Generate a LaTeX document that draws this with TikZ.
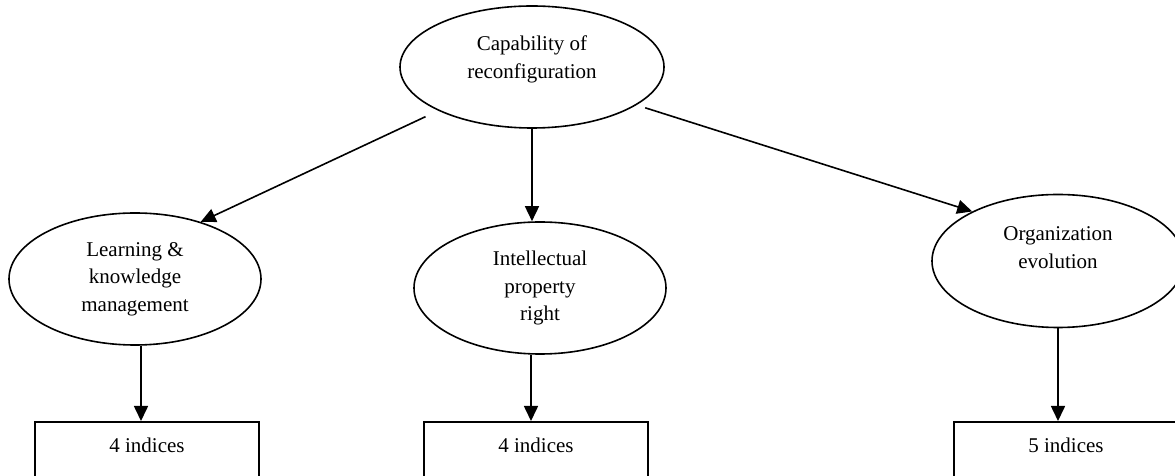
\documentclass[tikz,border=0pt]{standalone}
\usepackage{fontspec}
\setmainfont{Liberation Serif}
\usetikzlibrary{shapes,arrows.meta}

\begin{document}
\begin{tikzpicture}[x=1pt,y=1pt,
    oval/.style={ellipse, draw, line width=1.6pt, inner sep=0pt,
        minimum width=252pt, minimum height=132pt, align=center,
        font=\fontsize{21}{27.5}\selectfont},
    indexbox/.style={draw, line width=1.6pt, anchor=north, minimum width=224pt,
        inner ysep=0pt, text height=31pt, text depth=40pt,
        font=\fontsize{21}{27.5}\selectfont},
    link/.style={line width=1.6pt, -{Triangle[length=15pt,width=14pt]}}]
    \useasboundingbox (0,0) rectangle (1175,476);
    \clip (0,0) rectangle (1175,476);

    % ellipses
    \node[oval, minimum width=264pt, minimum height=122pt] (cap) at (532,409)
        {Capability of\\reconfiguration\rule[-20pt]{0pt}{0pt}};
    \node[oval] (learn) at (135,197) {Learning \&\\knowledge\\management};
    \node[oval] (ipr) at (540,188) {Intellectual\\property\\right};
    \node[oval, minimum height=133pt] (org) at (1058,215)
        {Organization\\evolution\rule[-27pt]{0pt}{0pt}};

    % boxes
    \node[indexbox] (lbox) at (147,55) {4 indices};
    \node[indexbox] (mbox) at (536,55) {4 indices};
    \node[indexbox] (rbox) at (1066,55) {5 indices};

    \draw[link, shorten <=14pt] (cap.205) -- (learn.41);
    \draw[link] (cap.south) -- (cap.south |- ipr.north);
    \draw[link, shorten <=9pt] (cap.340) -- (org.150);

    \draw[link] ([xshift=6pt]learn.south) -- ([xshift=6pt]learn.south |- lbox.north);
    \draw[link] ([xshift=-9pt]ipr.south) -- ([xshift=-9pt]ipr.south |- mbox.north);
    \draw[link] (org.south) -- (org.south |- rbox.north);
\end{tikzpicture}
\end{document}
